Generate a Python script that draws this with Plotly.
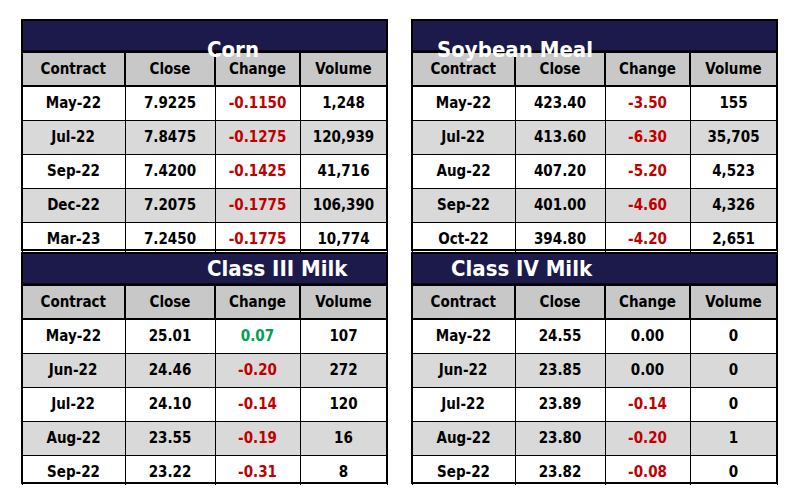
import plotly.graph_objects as go

W, H = 797, 502
OFF = 8  # page body margin
NAVY = "#1b1a4b"
RED = "#c00000"
GREEN = "#00a050"

corn_contract = ["May-22", "Jul-22", "Sep-22", "Dec-22", "Mar-23", "May-23", "Jul-23", "Sep-23"]
corn_close = ["7.9225", "7.8475", "7.4200", "7.2075", "7.2450", "7.2500", "7.2050", "6.6750"]
corn_change = ["-0.1150", "-0.1275", "-0.1425", "-0.1775", "-0.1775", "-0.1825", "-0.1900", "-0.1600"]
corn_volume = ["1,248", "120,939", "41,716", "106,390", "10,774", "4,691", "4,112", "634"]

soy_contract = ["May-22", "Jul-22", "Aug-22", "Sep-22", "Oct-22", "Dec-22", "Jan-23", "Mar-23"]
soy_close = ["423.40", "413.60", "407.20", "401.00", "394.80", "395.30", "393.90", "389.50"]
soy_change = ["-3.50", "-6.30", "-5.20", "-4.60", "-4.20", "-3.80", "-3.90", "-4.40"]
soy_volume = ["155", "35,705", "4,523", "4,326", "2,651", "13,976", "3,203", "1,986"]

m3_contract = ["May-22", "Jun-22", "Jul-22", "Aug-22", "Sep-22", "Oct-22", "Nov-22", "Dec-22"]
m3_close = ["25.01", "24.46", "24.10", "23.55", "23.22", "23.00", "22.65", "22.06"]
m3_change = ["0.07", "-0.20", "-0.14", "-0.19", "-0.31", "-0.28", "-0.30", "-0.25"]
m3_volume = ["107", "272", "120", "16", "8", "15", "9", "5"]

m4_contract = ["May-22", "Jun-22", "Jul-22", "Aug-22", "Sep-22", "Oct-22", "Nov-22", "Dec-22"]
m4_close = ["24.55", "23.85", "23.89", "23.80", "23.82", "23.35", "22.96", "22.50"]
m4_change = ["0.00", "0.00", "-0.14", "-0.20", "-0.08", "-0.15", "-0.28", "-0.10"]
m4_volume = ["0", "0", "0", "1", "0", "5", "8", "6"]

headers = ["Contract", "Close", "Change", "Volume"]
FONT = "DejaVu Sans Condensed, Liberation Sans Narrow, sans-serif"

panels = [
    ("Corn", corn_contract, corn_close, corn_change, corn_volume, 22, 387, 20),
    ("Soybean Meal", soy_contract, soy_close, soy_change, soy_volume, 412, 777, 20),
    ("Class III Milk", m3_contract, m3_close, m3_change, m3_volume, 22, 387, 253),
    ("Class IV Milk", m4_contract, m4_close, m4_change, m4_volume, 412, 777, 253),
]

def px_x(x):
    return (x - OFF) / W

def px_y(y):
    return 1 - (y - OFF) / H

def chg_color(v):
    f = float(v)
    return RED if f < 0 else (GREEN if f > 0 else "black")

fig = go.Figure()
shapes, annos = [], []
for title, c, cl, ch, vol, x0, x1, y0 in panels:
    fills = ["white" if i % 2 == 0 else "#d9d9d9" for i in range(len(c))]
    fig.add_trace(go.Table(
        domain=dict(x=[px_x(x0), px_x(x1)], y=[px_y(y0 + 232), px_y(y0 + 32)]),
        columnwidth=[103, 90, 85, 87],
        header=dict(values=[f"<b>{h}</b>" for h in headers], fill_color="#c8c8c8",
                    line=dict(color="black", width=1.5), align="center", height=22,
                    font=dict(family=FONT, size=15, color="black")),
        cells=dict(values=[[f"<b>{v}</b>" for v in col] for col in (c, cl, ch, vol)],
                   fill_color=[fills] * 4, line=dict(color="black", width=1),
                   align="center", height=22,
                   font=dict(family=FONT, size=15,
                             color=["black", "black", [chg_color(v) for v in ch], "black"])),
    ))
    shapes.append(dict(type="rect", xref="paper", yref="paper", x0=px_x(x0), x1=px_x(x1),
                       y0=px_y(y0 + 31), y1=px_y(y0), fillcolor=NAVY,
                       line=dict(color="black", width=1.5)))
    shapes.append(dict(type="rect", xref="paper", yref="paper", x0=px_x(x0), x1=px_x(x1),
                       y0=px_y(y0 + 230), y1=px_y(y0),
                       line=dict(color="black", width=2)))
    annos.append(dict(text=f"<b>{title}</b>", x=px_x((x0 + x1) / 2), y=px_y(y0 + 15.5),
                      xref="paper", yref="paper", showarrow=False,
                      font=dict(family=FONT, size=22, color="white")))

fig.update_layout(width=W, height=H, margin=dict(l=0, r=0, t=0, b=0),
                  paper_bgcolor="white", shapes=shapes, annotations=annos)
fig.write_html("out.html")
